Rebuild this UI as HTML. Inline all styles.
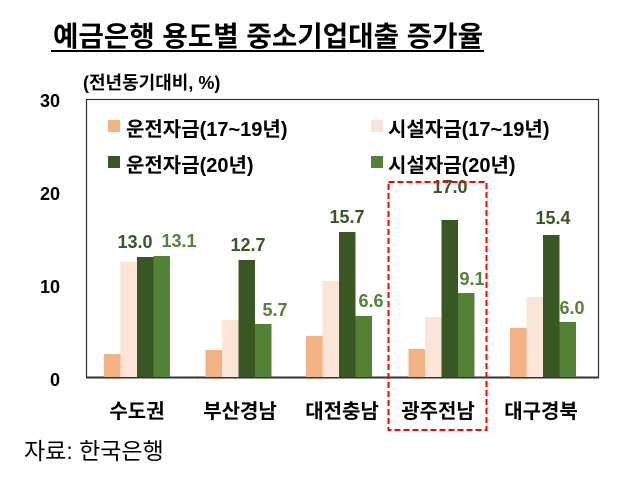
<!DOCTYPE html>
<html><head><meta charset="utf-8"><style>
body{margin:0;background:#fff;width:620px;height:490px;overflow:hidden}
svg{display:block}
text{font-family:"Liberation Sans","Noto Sans CJK KR",sans-serif}
</style></head><body>
<svg width="620" height="490" viewBox="0 0 620 490">
<text x="268" y="46" font-size="28" font-weight="bold" text-anchor="middle" fill="#000" textLength="430" lengthAdjust="spacingAndGlyphs">예금은행 용도별 중소기업대출 증가율</text>
<rect x="51" y="50" width="433" height="2" fill="#000"/>
<text x="83" y="89" font-size="18" font-weight="bold" fill="#000">(전년동기대비, %)</text>
<g font-size="18" font-weight="bold" fill="#000" text-anchor="end">
<text x="60" y="107">30</text><text x="60" y="200">20</text><text x="60" y="293">10</text><text x="60" y="386">0</text>
</g>
<rect x="86.5" y="99.5" width="512" height="278" fill="none" stroke="#333" stroke-width="1.2"/>
<line x1="86" y1="377.5" x2="599" y2="377.5" stroke="#333" stroke-width="2"/>
<g font-size="20" font-weight="bold" fill="#000">
<rect x="108" y="120" width="12" height="12" fill="#F4B183"/><text x="126" y="136">운전자금(17~19년)</text>
<rect x="371" y="120" width="12" height="12" fill="#FBE5D6"/><text x="388" y="136">시설자금(17~19년)</text>
<rect x="108" y="156" width="12" height="12" fill="#385723"/><text x="126" y="172">운전자금(20년)</text>
<rect x="371" y="156" width="12" height="12" fill="#548235"/><text x="388" y="172">시설자금(20년)</text>
</g>
<g>
<rect x="104" y="354" width="16.5" height="23" fill="#F4B183"/>
<rect x="120.5" y="262" width="16.5" height="115" fill="#FBE5D6"/>
<rect x="137" y="257" width="16.5" height="120" fill="#385723"/>
<rect x="153.5" y="256" width="16.5" height="121" fill="#548235"/>
<rect x="205.5" y="350" width="16.5" height="27" fill="#F4B183"/>
<rect x="222" y="320" width="16.5" height="57" fill="#FBE5D6"/>
<rect x="238.5" y="260" width="16.5" height="117" fill="#385723"/>
<rect x="255" y="324" width="16.5" height="53" fill="#548235"/>
<rect x="306" y="336" width="16.5" height="41" fill="#F4B183"/>
<rect x="322.5" y="281" width="16.5" height="96" fill="#FBE5D6"/>
<rect x="339" y="232" width="16.5" height="145" fill="#385723"/>
<rect x="355.5" y="316" width="16.5" height="61" fill="#548235"/>
<rect x="408.5" y="349" width="16.5" height="28" fill="#F4B183"/>
<rect x="425" y="317" width="16.5" height="60" fill="#FBE5D6"/>
<rect x="441.5" y="220" width="16.5" height="157" fill="#385723"/>
<rect x="458" y="293" width="16.5" height="84" fill="#548235"/>
<rect x="510" y="328" width="16.5" height="49" fill="#F4B183"/>
<rect x="526.5" y="297" width="16.5" height="80" fill="#FBE5D6"/>
<rect x="543" y="235" width="16.5" height="142" fill="#385723"/>
<rect x="559.5" y="322" width="16.5" height="55" fill="#548235"/>
</g>
<g font-size="18" font-weight="bold" text-anchor="middle">
<text x="135" y="248" fill="#385723">13.0</text>
<text x="179" y="247" fill="#548235">13.1</text>
<text x="248" y="251" fill="#385723">12.7</text>
<text x="275" y="316" fill="#548235">5.7</text>
<text x="347" y="223" fill="#385723">15.7</text>
<text x="371" y="307" fill="#548235">6.6</text>
<text x="450" y="193" fill="#385723">17.0</text>
<text x="472" y="285" fill="#548235">9.1</text>
<text x="553" y="224" fill="#385723">15.4</text>
<text x="572" y="314" fill="#548235">6.0</text>
</g>
<rect x="388.5" y="182" width="98" height="248" fill="none" stroke="#FF0000" stroke-width="2" stroke-dasharray="6,3"/>
<g font-size="20" font-weight="bold" fill="#000" text-anchor="middle">
<text x="137" y="418">수도권</text>
<text x="240" y="418">부산경남</text>
<text x="342" y="418">대전충남</text>
<text x="438" y="418">광주전남</text>
<text x="541" y="418">대구경북</text>
</g>
<text x="24" y="459" font-size="23" fill="#000">자료:  한국은행</text>
</svg>
</body></html>
